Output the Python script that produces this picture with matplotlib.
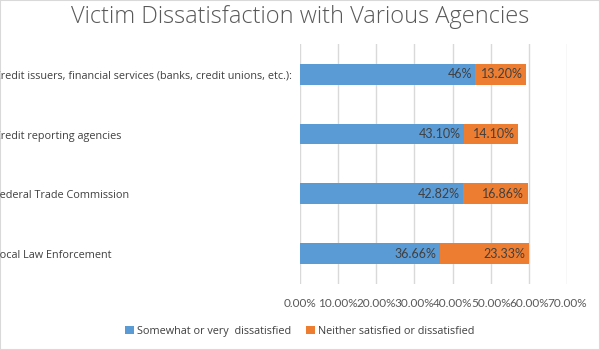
import matplotlib.pyplot as plt
from matplotlib.ticker import FuncFormatter

# data
categories = ["Credit issuers, financial services (banks, credit unions, etc.):",
              "Credit reporting agencies",
              "Federal Trade Commission",
              "Local Law Enforcement"]
dissatisfied = [46, 43.10, 42.82, 36.66]
neutral = [13.20, 14.10, 16.86, 23.33]
dissatisfied_labels = ["46%", "43.10%", "42.82%", "36.66%"]
neutral_labels = ["13.20%", "14.10%", "16.86%", "23.33%"]
x_ticks = [0, 10, 20, 30, 40, 50, 60, 70]

blue = "#5B9BD5"
orange = "#ED7D31"

fig = plt.figure(figsize=(6, 3.5), dpi=100)
ax = fig.add_axes([0.5, 0.189, 0.445, 0.685])

y = list(range(len(categories)))
ax.barh(y, dissatisfied, height=0.35, color=blue, label="Somewhat or very  dissatisfied", zorder=3)
ax.barh(y, neutral, left=dissatisfied, height=0.35, color=orange,
        label="Neither satisfied or dissatisfied", zorder=3)

# data labels (inside end)
for i in y:
    ax.text(dissatisfied[i] - 0.9, i, dissatisfied_labels[i], ha="right", va="center",
            fontsize=9, color="#404040", family="Lato", zorder=4)
    ax.text(dissatisfied[i] + neutral[i] - 0.9, i, neutral_labels[i], ha="right", va="center",
            fontsize=9, color="#404040", family="Lato", zorder=4)

ax.set_xlim(0, 70)
ax.set_ylim(3.5, -0.5)
ax.set_xticks(x_ticks)
ax.xaxis.set_major_formatter(FuncFormatter(lambda v, p: f"{v:.2f}%"))
ax.tick_params(axis="x", length=0, labelsize=8.5, labelcolor="#595959", pad=10)
for lab in ax.get_xticklabels():
    lab.set_family("Lato")
ax.set_yticks([])
ax.grid(axis="x", color="#D9D9D9", linewidth=1, zorder=0)
for s in ax.spines.values():
    s.set_visible(False)

# category labels, left aligned and clipped at figure edge like the original
for i, cat in enumerate(categories):
    yy = ax.transData.transform((0, i))[1] - 2
    fig.text(-6 / 600, yy / fig.bbox.height, cat, ha="left", va="center",
             fontsize=7.8, color="#404040", family="Open Sans")

fig.suptitle("Victim Dissatisfaction with Various Agencies", y=0.985, fontsize=17,
             color="#595959", family="Open Sans", fontweight="light")

fig.legend(loc="lower center", bbox_to_anchor=(0.5, 0.01), ncol=2, frameon=False,
           handlelength=0.8, handleheight=0.8, columnspacing=1.4,
           handletextpad=0.3, labelcolor="#404040", prop={"family": "Open Sans", "size": 7.8})

# chart border
fig.patches.append(plt.Rectangle((0, 0), 1, 1, transform=fig.transFigure, fill=False,
                                 edgecolor="#D9D9D9", linewidth=1.5))

fig.savefig("out.png", dpi=100)
